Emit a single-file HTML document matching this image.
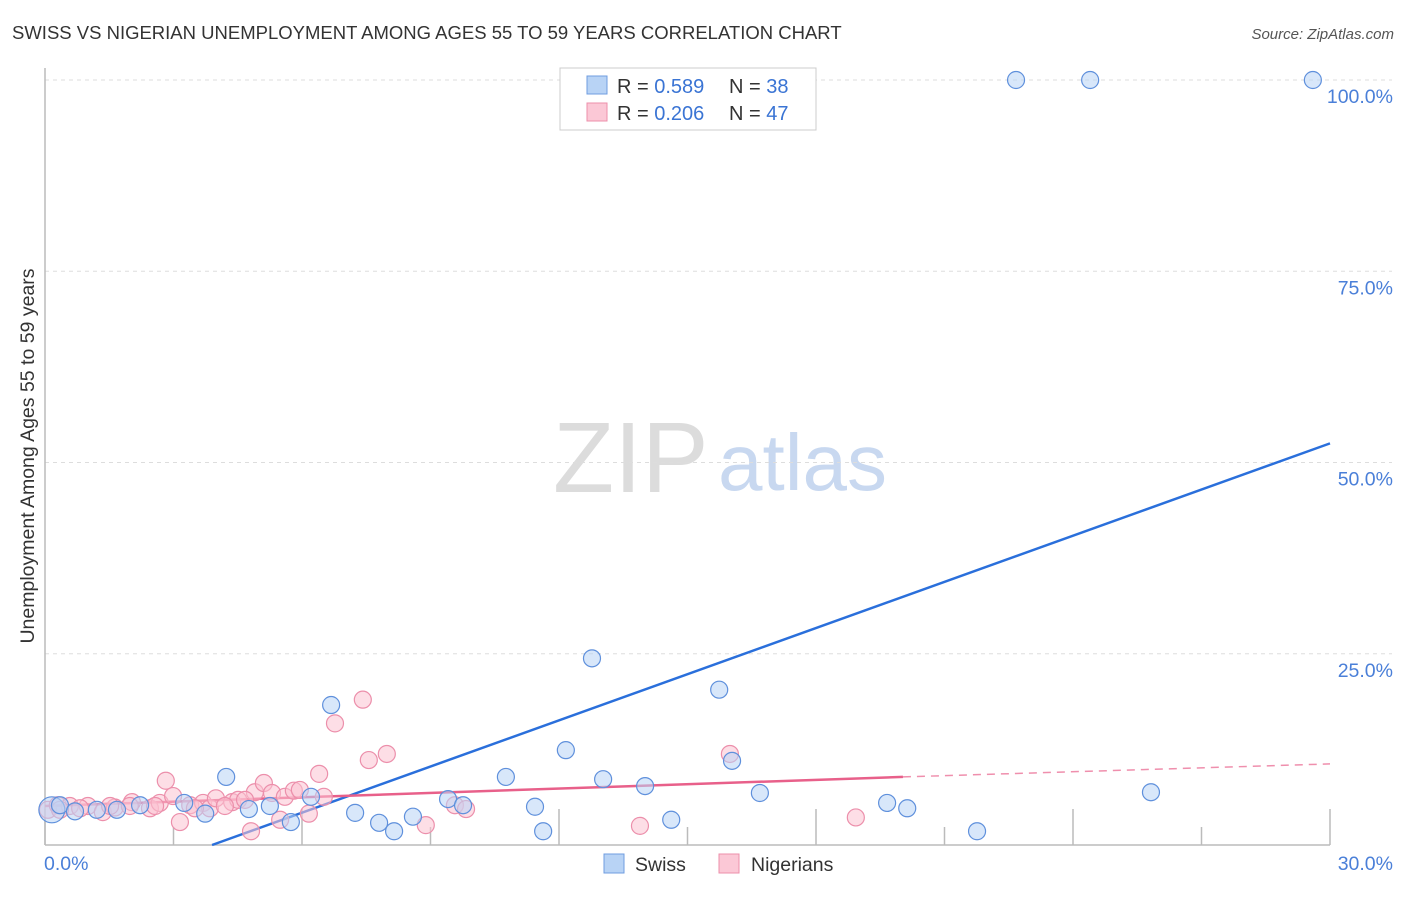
<!DOCTYPE html>
<html><head><meta charset="utf-8"><style>
body{margin:0;background:#fff;font-family:"Liberation Sans",sans-serif;}
svg text{font-family:"Liberation Sans",sans-serif;}
</style></head><body>
<svg id="chart" width="1406" height="892">
<text x="12" y="39" font-size="18.5" fill="#333">SWISS VS NIGERIAN UNEMPLOYMENT AMONG AGES 55 TO 59 YEARS CORRELATION CHART</text>
<text x="1394" y="39" font-size="15" fill="#555" font-style="italic" text-anchor="end">Source: ZipAtlas.com</text>
<text x="553" y="492" font-size="100" fill="#dcdcdc" font-family="Liberation Serif">ZIP</text>
<text x="718" y="490" font-size="80" fill="#c8d8f0">atlas</text>
<text transform="translate(34,456) rotate(-90)" font-size="19.5" fill="#333" text-anchor="middle">Unemployment Among Ages 55 to 59 years</text>
<g id="grid"></g><g id="axes"></g><g id="lines"></g><g id="pts"></g>
<g>
<rect x="560" y="68" width="256" height="62" fill="#fff" stroke="#ccc"/>
<rect x="587" y="76" width="20" height="18" fill="#b8d3f5" stroke="#6f9de0"/>
<rect x="587" y="103" width="20" height="18" fill="#fbc8d6" stroke="#ec8fab"/>
<text x="617" y="93" font-size="20" fill="#333">R = <tspan fill="#3a74d4">0.589</tspan></text>
<text x="729" y="93" font-size="20" fill="#333">N = <tspan fill="#3a74d4">38</tspan></text>
<text x="617" y="120" font-size="20" fill="#333">R = <tspan fill="#3a74d4">0.206</tspan></text>
<text x="729" y="120" font-size="20" fill="#333">N = <tspan fill="#3a74d4">47</tspan></text>
</g>
<g>
<rect x="604" y="854" width="20" height="19" fill="#b8d3f5" stroke="#6f9de0"/>
<text x="635" y="871" font-size="19.5" fill="#333">Swiss</text>
<rect x="719" y="854" width="20" height="19" fill="#fbc8d6" stroke="#ec8fab"/>
<text x="751" y="871" font-size="19.5" fill="#333">Nigerians</text>
</g>
</svg>
<script>
const xTicks=[0,3,6,9,12,15,18,21,24,27,30];
const yTicks=[25,50,75,100];
const swissX=[0.16,0.35,0.70,1.21,1.68,2.22,3.25,3.74,4.23,4.76,5.25,5.74,6.21,6.68,7.24,7.80,8.15,8.59,9.41,9.76,10.76,11.44,11.63,12.16,12.77,13.03,14.01,14.62,15.74,16.04,16.69,19.66,20.13,21.76,25.82,22.67,24.40,29.60];
const swissY=[4.6,5.2,4.4,4.6,4.6,5.2,5.5,4.1,8.9,4.7,5.1,3.0,6.3,18.3,4.2,2.9,1.8,3.7,6.0,5.2,8.9,5.0,1.8,12.4,24.4,8.6,7.7,3.3,20.3,11.0,6.8,5.5,4.8,1.8,6.9,100,100,100];
const nigX=[0.07,0.30,0.58,1.00,1.35,1.63,2.03,2.45,2.68,2.82,2.99,3.15,3.39,3.69,3.85,3.99,4.37,4.51,4.81,4.90,5.11,5.30,5.49,5.60,5.81,5.95,6.16,6.40,6.51,6.77,7.42,7.56,7.98,8.89,9.57,9.83,13.89,15.99,18.93,1.98,3.50,4.20,4.67,0.35,0.82,1.52,2.57];
const nigY=[4.6,5.2,5.1,5.1,4.3,4.9,5.6,4.8,5.5,8.4,6.4,3.0,5.2,5.5,4.8,6.1,5.6,5.9,1.8,6.9,8.1,6.8,3.3,6.3,7.1,7.2,4.1,9.3,6.3,15.9,19.0,11.1,11.9,2.6,5.2,4.7,2.5,11.9,3.6,5.1,4.8,5.1,5.9,4.6,4.8,5.1,5.1];
const swissLine=[[3.9,0],[30,52.5]];
const nigLine=[[0,5.1],[20.03,8.9],[30,10.6]];
const X=v=>45+v/30*1285, Y=v=>845-v/100*765;
const NS='http://www.w3.org/2000/svg';
function mk(p,t,a){const e=document.createElementNS(NS,t);for(const k in a)e.setAttribute(k,a[k]);document.getElementById(p).appendChild(e);return e;}
yTicks.forEach(t=>{
 const l=mk('grid','line',{x1:45,x2:1392,y1:Y(t),y2:Y(t),stroke:'#ddd','stroke-dasharray':'4,4'});
 
 
 const tx=mk('grid','text',{x:1393,y:Y(t)+23,'font-size':19.5,fill:'#4a7fd8','text-anchor':'end'});
 tx.textContent=t.toFixed(1)+'%';
 
 
});
const ya=mk('axes','line',{x1:45,x2:45,y1:68,y2:845,stroke:'#bbb','stroke-width':1.5});


const xa=mk('axes','line',{x1:45,x2:1330,y1:845,y2:845,stroke:'#bbb','stroke-width':1.5});


xTicks.forEach((t,i)=>{
 const l=mk('axes','line',{x1:X(t),x2:X(t),y1:(i%2?827:809),y2:845,stroke:'#bbb','stroke-width':1.5});
 
 
});
[[0,'start',44],[30,'end',1393]].forEach(([v,a,x])=>{
 const tx=mk('axes','text',{x:x,y:870,'font-size':19.5,fill:'#4a7fd8','text-anchor':a});
 tx.textContent=v.toFixed(1)+'%';
 
 
});
function dots(xs,ys,f,s,nm){xs.forEach((x,i)=>{
 const c=mk('pts','circle',{cx:X(x),cy:Y(ys[i]),r:(i==0&&nm=='swiss')?13:8.5,fill:f,'fill-opacity':0.55,stroke:s,'stroke-width':1.2});
 
 
});}
dots(nigX,nigY,'#fbc3d2','#ec8fab','nigerian');
dots(swissX,swissY,'#b8d3f5','#5f90dc','swiss');
const sl=mk('lines','line',{x1:X(swissLine[0][0]),y1:Y(swissLine[0][1]),x2:X(swissLine[1][0]),y2:Y(swissLine[1][1]),stroke:'#2a6fdb','stroke-width':2.5});


const nl=mk('lines','line',{x1:X(nigLine[0][0]),y1:Y(nigLine[0][1]),x2:X(nigLine[1][0]),y2:Y(nigLine[1][1]),stroke:'#e8608a','stroke-width':2.5});


const nd=mk('lines','line',{x1:X(nigLine[1][0]),y1:Y(nigLine[1][1]),x2:X(nigLine[2][0]),y2:Y(nigLine[2][1]),stroke:'#e8608a','stroke-width':1.5,'stroke-dasharray':'8,6','stroke-opacity':0.7});


</script>
</body></html>
